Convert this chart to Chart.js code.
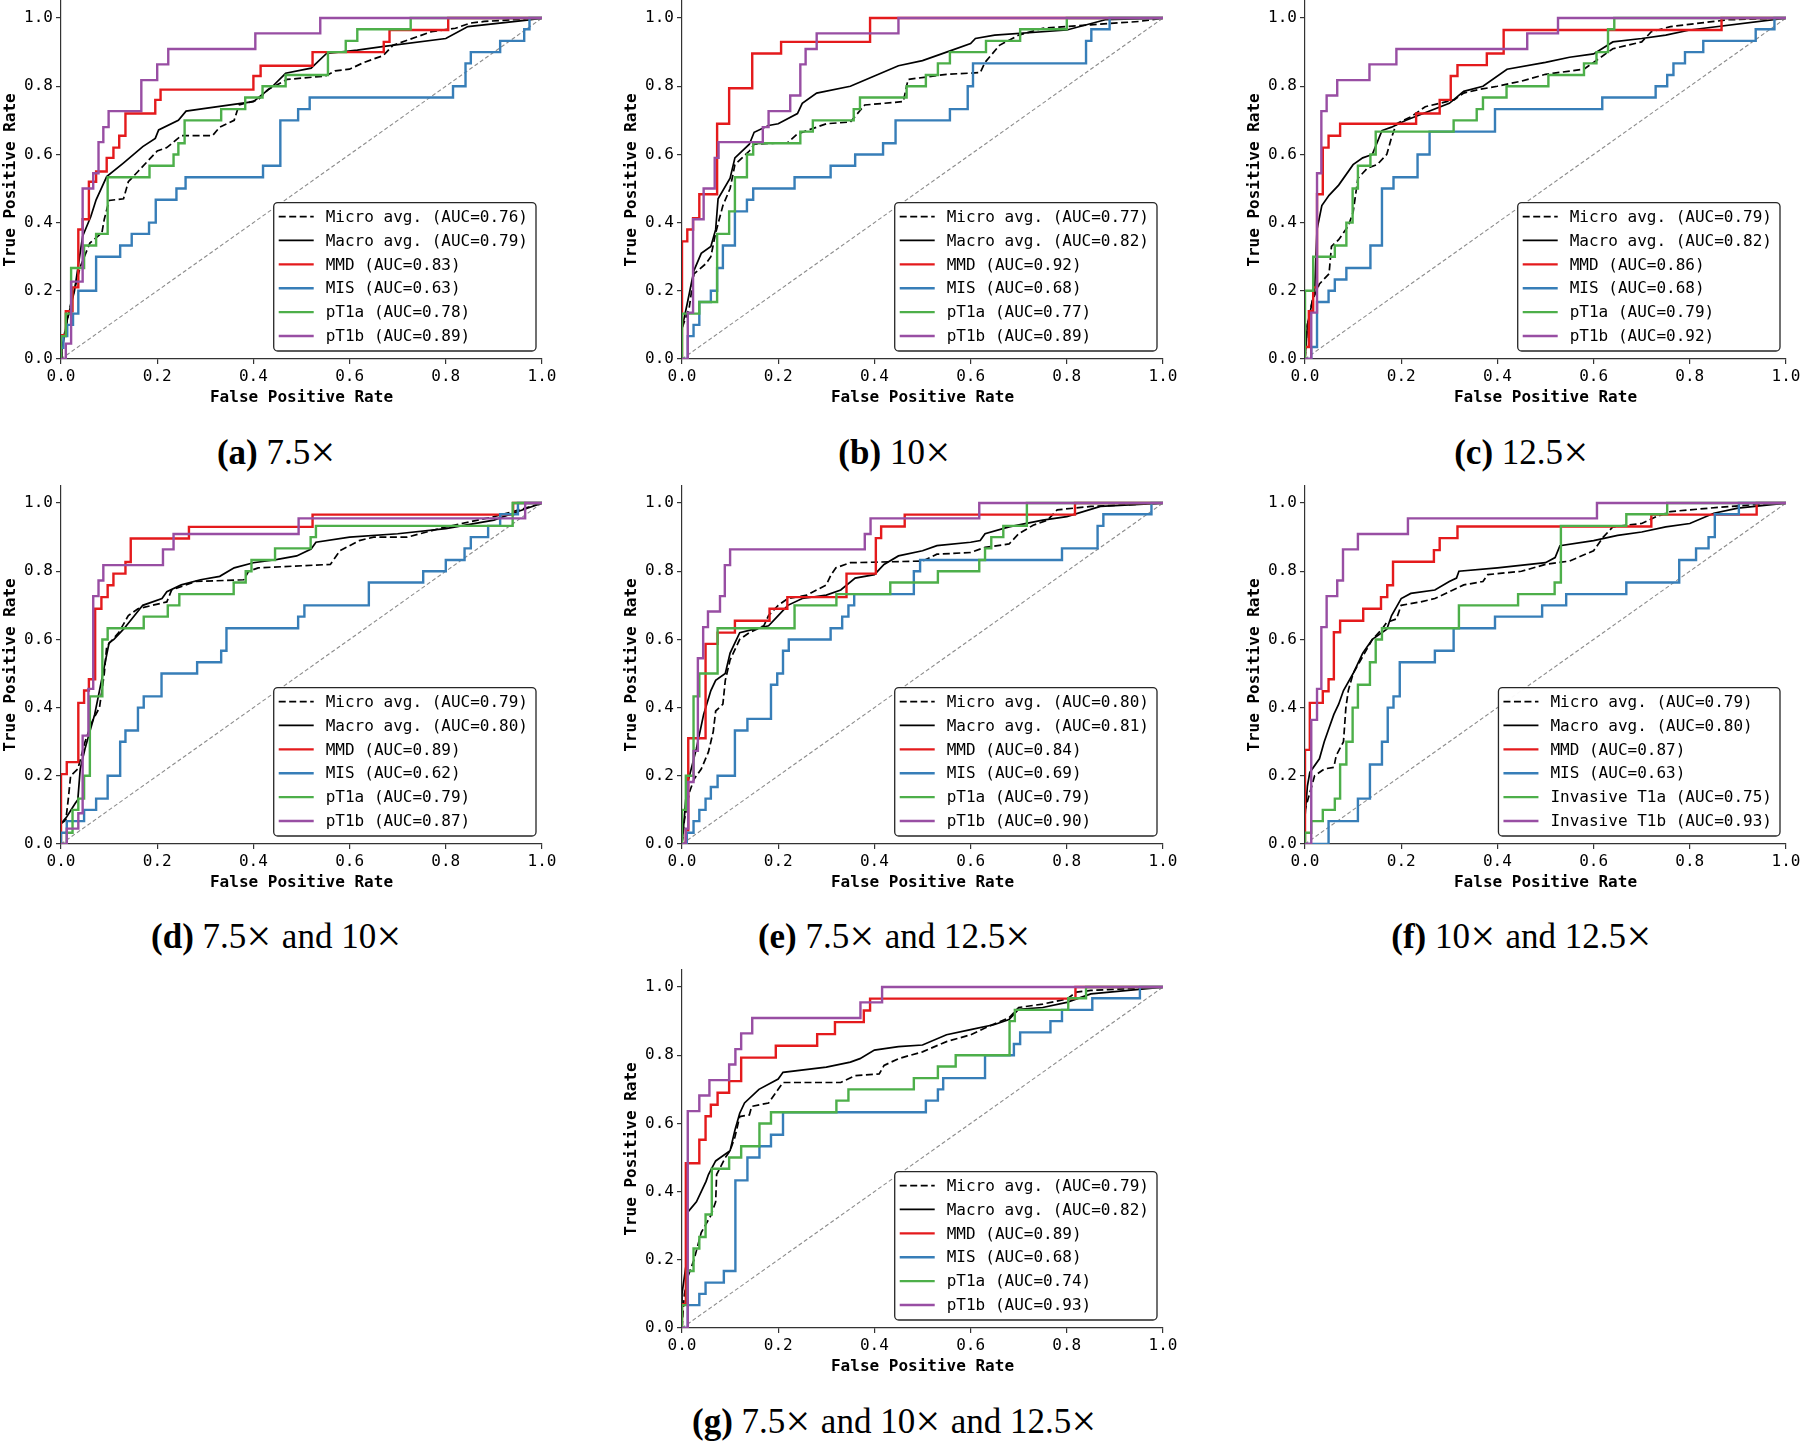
<!DOCTYPE html>
<html>
<head>
<meta charset="utf-8">
<script src="https://cdn.jsdelivr.net/npm/chart.js@4.4.0/dist/chart.umd.min.js"></script>
<style>
    body { margin: 0; background: #fff; width: 1800px; height: 1441px; position: relative; overflow: hidden; }
    canvas { position: absolute; }
    .cap { position: absolute; width: 560px; text-align: center; font-family: "Liberation Serif", "Times New Roman", serif;
           font-size: 35px; line-height: 40px; color: #000; white-space: nowrap; }
    .cap b { font-weight: bold; }
    .cap .times { display: inline-block; transform: scale(1.25); margin: 0 4px 0 3px; }
</style>
</head>
<body>
<script>
// ROC points [fpr, tpr]; class curves are staircases (up, then right)
const a_micro = [[0,0],[0.005,0.06],[0.02,0.16],[0.04,0.27],[0.06,0.34],[0.085,0.37],[0.09,0.41],[0.1,0.465],[0.13,0.47],[0.14,0.52],[0.16,0.55],[0.18,0.58],[0.2,0.61],[0.22,0.62],[0.25,0.655],[0.315,0.655],[0.33,0.68],[0.36,0.70],[0.37,0.745],[0.41,0.76],[0.43,0.79],[0.47,0.82],[0.55,0.83],[0.57,0.845],[0.6,0.85],[0.63,0.87],[0.65,0.88],[0.67,0.89],[0.69,0.92],[0.75,0.95],[0.77,0.96],[0.82,0.97],[0.85,0.985],[0.88,0.99],[1,1]];
const a_macro = [[0,0],[0.002,0.027],[0.013,0.115],[0.028,0.2],[0.045,0.36],[0.062,0.418],[0.073,0.467],[0.095,0.535],[0.129,0.574],[0.17,0.623],[0.196,0.647],[0.203,0.672],[0.244,0.70],[0.26,0.727],[0.3,0.735],[0.4,0.755],[0.44,0.80],[0.467,0.838],[0.52,0.853],[0.552,0.896],[0.616,0.906],[0.668,0.916],[0.8,0.94],[0.846,0.975],[0.969,0.994],[1,1]];
const a_mmd = [[0,0],[0.01,0.07],[0.024,0.14],[0.036,0.21],[0.045,0.38],[0.058,0.41],[0.073,0.52],[0.095,0.55],[0.109,0.59],[0.121,0.62],[0.134,0.655],[0.196,0.72],[0.207,0.76],[0.40,0.79],[0.415,0.83],[0.523,0.86],[0.671,0.90],[0.683,0.93],[0.805,0.965],[1,1]];
const a_mis = [[0,0],[0.005,0.033],[0.013,0.067],[0.025,0.10],[0.036,0.133],[0.073,0.20],[0.123,0.30],[0.147,0.333],[0.183,0.367],[0.197,0.40],[0.24,0.467],[0.259,0.50],[0.42,0.533],[0.456,0.567],[0.493,0.70],[0.517,0.733],[0.815,0.767],[0.841,0.80],[0.852,0.867],[0.913,0.90],[0.963,0.933],[0.974,0.967],[1,1]];
const a_t1a = [[0,0],[0.01,0.067],[0.021,0.133],[0.048,0.267],[0.073,0.333],[0.097,0.367],[0.184,0.533],[0.234,0.567],[0.244,0.60],[0.257,0.633],[0.333,0.70],[0.383,0.733],[0.419,0.767],[0.467,0.80],[0.555,0.833],[0.592,0.90],[0.616,0.933],[0.727,0.967],[1,1]];
const a_t1b = [[0,0],[0.01,0],[0.021,0.045],[0.045,0.227],[0.067,0.50],[0.078,0.545],[0.088,0.636],[0.099,0.68],[0.167,0.727],[0.20,0.818],[0.223,0.864],[0.404,0.909],[0.539,0.955],[1,1]];

const b_micro = [[0,0],[0,0.09],[0.015,0.15],[0.025,0.25],[0.05,0.28],[0.06,0.3],[0.07,0.37],[0.085,0.45],[0.1,0.5],[0.11,0.57],[0.14,0.61],[0.15,0.63],[0.22,0.635],[0.24,0.66],[0.3,0.69],[0.35,0.695],[0.38,0.745],[0.46,0.755],[0.47,0.82],[0.55,0.835],[0.62,0.84],[0.63,0.87],[0.66,0.92],[0.7,0.95],[0.75,0.97],[0.85,0.98],[0.95,0.99],[1,1]];
const b_macro = [[0,0],[0,0.09],[0.012,0.17],[0.025,0.26],[0.04,0.31],[0.06,0.33],[0.07,0.38],[0.075,0.47],[0.1,0.53],[0.11,0.59],[0.14,0.63],[0.15,0.665],[0.18,0.685],[0.2,0.69],[0.24,0.72],[0.25,0.75],[0.28,0.78],[0.35,0.80],[0.4,0.83],[0.45,0.86],[0.5,0.875],[0.55,0.90],[0.6,0.925],[0.61,0.94],[0.65,0.95],[0.8,0.965],[0.88,0.995],[1,1]];
const b_mmd = [[0,0],[0.011,0.345],[0.023,0.38],[0.036,0.413],[0.073,0.483],[0.098,0.69],[0.146,0.794],[0.206,0.896],[0.391,0.93],[1,1]];
const b_mis = [[0,0],[0.012,0],[0.024,0.067],[0.036,0.10],[0.06,0.167],[0.073,0.20],[0.085,0.267],[0.11,0.333],[0.135,0.433],[0.148,0.467],[0.234,0.50],[0.309,0.533],[0.36,0.567],[0.418,0.60],[0.444,0.633],[0.557,0.70],[0.594,0.733],[0.605,0.80],[0.84,0.867],[0.851,0.933],[0.889,0.967],[1,1]];
const b_t1a = [[0,0],[0.036,0.133],[0.073,0.167],[0.098,0.367],[0.11,0.433],[0.135,0.533],[0.148,0.60],[0.246,0.633],[0.272,0.667],[0.357,0.70],[0.37,0.733],[0.467,0.767],[0.507,0.80],[0.532,0.833],[0.557,0.867],[0.632,0.90],[0.703,0.933],[0.80,0.967],[1,1]];
const b_t1b = [[0,0],[0.012,0],[0.023,0.136],[0.045,0.41],[0.068,0.50],[0.076,0.59],[0.168,0.636],[0.18,0.68],[0.225,0.727],[0.246,0.773],[0.257,0.864],[0.28,0.909],[0.45,0.955],[1,1]];

const c_micro = [[0,0],[0.005,0.1],[0.015,0.17],[0.03,0.22],[0.05,0.25],[0.055,0.33],[0.07,0.35],[0.08,0.37],[0.09,0.39],[0.1,0.43],[0.11,0.53],[0.13,0.56],[0.15,0.57],[0.17,0.6],[0.18,0.65],[0.19,0.69],[0.22,0.71],[0.25,0.74],[0.31,0.76],[0.33,0.78],[0.36,0.79],[0.4,0.80],[0.45,0.815],[0.5,0.835],[0.58,0.85],[0.6,0.87],[0.64,0.91],[0.7,0.93],[0.72,0.96],[0.76,0.975],[0.82,0.985],[0.88,0.995],[1,1]];
const c_macro = [[0,0],[0.005,0.1],[0.02,0.2],[0.025,0.38],[0.035,0.45],[0.05,0.48],[0.07,0.51],[0.1,0.57],[0.12,0.59],[0.14,0.6],[0.16,0.67],[0.18,0.68],[0.21,0.70],[0.3,0.75],[0.33,0.785],[0.37,0.8],[0.42,0.85],[0.5,0.87],[0.55,0.885],[0.6,0.895],[0.64,0.93],[0.7,0.94],[0.75,0.95],[0.8,0.965],[1,1]];
const c_mmd = [[0,0],[0.008,0.035],[0.017,0.14],[0.025,0.21],[0.037,0.483],[0.049,0.62],[0.073,0.655],[0.231,0.69],[0.28,0.72],[0.303,0.76],[0.317,0.83],[0.378,0.862],[0.413,0.896],[0.866,0.965],[1,1]];
const c_mis = [[0,0],[0.013,0],[0.025,0.035],[0.049,0.167],[0.062,0.20],[0.086,0.233],[0.136,0.267],[0.16,0.333],[0.184,0.50],[0.234,0.533],[0.259,0.60],[0.395,0.667],[0.618,0.733],[0.729,0.767],[0.753,0.80],[0.766,0.833],[0.79,0.867],[0.828,0.90],[0.937,0.933],[0.976,0.967],[1,1]];
const c_t1a = [[0,0],[0.017,0.20],[0.062,0.30],[0.086,0.333],[0.099,0.40],[0.11,0.50],[0.136,0.567],[0.147,0.60],[0.309,0.667],[0.357,0.70],[0.37,0.733],[0.419,0.767],[0.506,0.80],[0.58,0.833],[0.606,0.867],[0.63,0.90],[0.643,0.967],[1,1]];
const c_t1b = [[0,0],[0.013,0],[0.025,0.136],[0.034,0.545],[0.045,0.727],[0.067,0.773],[0.134,0.818],[0.19,0.864],[0.462,0.909],[0.526,0.955],[1,1]];

const d_micro = [[0,0],[0,0.06],[0.01,0.07],[0.015,0.13],[0.02,0.2],[0.035,0.22],[0.05,0.3],[0.065,0.36],[0.08,0.4],[0.09,0.5],[0.095,0.58],[0.12,0.62],[0.14,0.67],[0.16,0.69],[0.22,0.71],[0.23,0.745],[0.28,0.77],[0.38,0.775],[0.39,0.8],[0.41,0.81],[0.56,0.82],[0.57,0.84],[0.58,0.86],[0.62,0.89],[0.65,0.9],[0.72,0.9],[0.8,0.93],[0.9,0.96],[0.94,0.975],[1,1]];
const d_macro = [[0,0],[0,0.06],[0.012,0.08],[0.03,0.12],[0.035,0.13],[0.04,0.22],[0.05,0.28],[0.06,0.33],[0.07,0.38],[0.08,0.45],[0.09,0.52],[0.1,0.59],[0.11,0.6],[0.13,0.63],[0.15,0.665],[0.17,0.7],[0.21,0.72],[0.22,0.74],[0.25,0.76],[0.29,0.775],[0.33,0.785],[0.36,0.81],[0.4,0.825],[0.45,0.835],[0.49,0.845],[0.52,0.865],[0.53,0.885],[0.6,0.9],[0.7,0.91],[0.8,0.925],[0.9,0.95],[0.95,0.975],[1,1]];
const d_mmd = [[0,0],[0.012,0.205],[0.036,0.24],[0.048,0.414],[0.058,0.45],[0.071,0.483],[0.084,0.69],[0.097,0.724],[0.109,0.759],[0.134,0.793],[0.145,0.827],[0.266,0.896],[0.523,0.93],[0.94,0.966],[1,1]];
const d_mis = [[0,0],[0.012,0.033],[0.048,0.067],[0.073,0.10],[0.097,0.133],[0.123,0.20],[0.134,0.30],[0.16,0.333],[0.172,0.40],[0.209,0.433],[0.283,0.50],[0.333,0.533],[0.344,0.567],[0.493,0.633],[0.506,0.667],[0.64,0.70],[0.753,0.767],[0.80,0.80],[0.839,0.833],[0.852,0.867],[0.888,0.90],[0.913,0.933],[0.95,0.967],[1,1]];
const d_t1a = [[0,0],[0.012,0],[0.024,0.033],[0.036,0.10],[0.048,0.133],[0.06,0.20],[0.086,0.433],[0.097,0.60],[0.172,0.633],[0.222,0.667],[0.246,0.70],[0.359,0.733],[0.384,0.767],[0.396,0.80],[0.445,0.833],[0.519,0.867],[0.53,0.90],[0.939,0.933],[1,1]];
const d_t1b = [[0,0],[0.012,0],[0.036,0.045],[0.045,0.09],[0.057,0.318],[0.067,0.455],[0.078,0.727],[0.088,0.773],[0.212,0.818],[0.234,0.864],[0.494,0.909],[0.965,0.955],[1,1]];

const e_micro = [[0,0],[0.005,0.07],[0.015,0.15],[0.025,0.19],[0.04,0.22],[0.055,0.27],[0.06,0.3],[0.065,0.33],[0.07,0.39],[0.085,0.41],[0.09,0.48],[0.1,0.54],[0.12,0.6],[0.14,0.62],[0.17,0.64],[0.18,0.67],[0.2,0.7],[0.22,0.72],[0.26,0.73],[0.3,0.76],[0.31,0.79],[0.32,0.81],[0.35,0.825],[0.5,0.83],[0.53,0.85],[0.6,0.855],[0.63,0.87],[0.68,0.88],[0.7,0.91],[0.73,0.935],[0.76,0.95],[0.78,0.98],[0.85,0.99],[1,1]];
const e_macro = [[0,0],[0.005,0.08],[0.01,0.17],[0.03,0.28],[0.045,0.38],[0.06,0.45],[0.07,0.48],[0.09,0.5],[0.1,0.56],[0.11,0.59],[0.12,0.62],[0.15,0.63],[0.18,0.64],[0.2,0.67],[0.22,0.7],[0.25,0.72],[0.3,0.73],[0.33,0.745],[0.36,0.78],[0.4,0.79],[0.42,0.82],[0.45,0.845],[0.5,0.86],[0.53,0.875],[0.6,0.885],[0.62,0.89],[0.63,0.91],[0.68,0.93],[0.75,0.95],[0.8,0.96],[0.87,0.99],[1,1]];
const e_mmd = [[0,0],[0.008,0],[0.013,0.04],[0.049,0.31],[0.074,0.587],[0.11,0.62],[0.182,0.655],[0.219,0.69],[0.342,0.724],[0.403,0.793],[0.414,0.897],[0.463,0.931],[0.817,0.966],[1,1]];
const e_mis = [[0,0],[0.01,0],[0.024,0.033],[0.036,0.067],[0.049,0.10],[0.06,0.133],[0.074,0.167],[0.11,0.20],[0.136,0.333],[0.185,0.367],[0.198,0.467],[0.21,0.50],[0.222,0.567],[0.309,0.60],[0.333,0.633],[0.346,0.667],[0.358,0.70],[0.482,0.733],[0.495,0.80],[0.79,0.833],[0.864,0.867],[0.876,0.933],[0.976,0.967],[1,1]];
const e_t1a = [[0,0],[0.008,0.10],[0.024,0.20],[0.036,0.433],[0.074,0.50],[0.234,0.633],[0.321,0.70],[0.433,0.733],[0.532,0.767],[0.618,0.80],[0.63,0.833],[0.643,0.867],[0.668,0.90],[0.717,0.933],[1,1]];
const e_t1b = [[0,0],[0.008,0],[0.013,0.045],[0.024,0.182],[0.033,0.273],[0.044,0.545],[0.054,0.636],[0.079,0.682],[0.089,0.727],[0.10,0.818],[0.38,0.864],[0.392,0.909],[0.618,0.955],[1,1]];

const f_micro = [[0,0],[0,0.1],[0.01,0.15],[0.02,0.2],[0.04,0.22],[0.06,0.225],[0.065,0.26],[0.08,0.3],[0.085,0.4],[0.09,0.45],[0.1,0.5],[0.12,0.55],[0.14,0.6],[0.16,0.63],[0.17,0.65],[0.19,0.66],[0.2,0.7],[0.24,0.71],[0.27,0.72],[0.3,0.74],[0.33,0.76],[0.37,0.77],[0.38,0.79],[0.45,0.8],[0.5,0.82],[0.55,0.83],[0.6,0.86],[0.62,0.9],[0.64,0.93],[0.7,0.94],[0.73,0.96],[0.76,0.975],[0.84,0.985],[0.93,0.995],[1,1]];
const f_macro = [[0,0],[0,0.08],[0.005,0.17],[0.01,0.21],[0.03,0.25],[0.04,0.3],[0.05,0.34],[0.06,0.38],[0.07,0.41],[0.08,0.45],[0.1,0.5],[0.12,0.56],[0.14,0.6],[0.17,0.63],[0.18,0.67],[0.2,0.72],[0.22,0.735],[0.27,0.745],[0.3,0.77],[0.315,0.78],[0.32,0.8],[0.4,0.81],[0.5,0.825],[0.52,0.84],[0.53,0.875],[0.6,0.89],[0.65,0.905],[0.7,0.915],[0.75,0.93],[0.8,0.94],[0.85,0.97],[0.9,0.985],[1,1]];
const f_mmd = [[0,0],[0.01,0.276],[0.037,0.414],[0.049,0.448],[0.06,0.483],[0.073,0.621],[0.121,0.655],[0.158,0.69],[0.171,0.724],[0.183,0.759],[0.268,0.828],[0.28,0.862],[0.317,0.897],[0.72,0.931],[0.939,0.966],[1,1]];
const f_mis = [[0,0],[0.049,0],[0.11,0.067],[0.135,0.133],[0.16,0.233],[0.172,0.30],[0.184,0.40],[0.197,0.433],[0.27,0.533],[0.309,0.567],[0.395,0.633],[0.493,0.667],[0.543,0.70],[0.668,0.733],[0.778,0.767],[0.813,0.833],[0.839,0.867],[0.852,0.90],[0.902,0.967],[1,1]];
const f_t1a = [[0,0],[0.013,0.033],[0.037,0.067],[0.062,0.10],[0.073,0.133],[0.086,0.233],[0.099,0.30],[0.11,0.40],[0.135,0.467],[0.147,0.533],[0.16,0.60],[0.32,0.633],[0.443,0.70],[0.519,0.733],[0.532,0.767],[0.668,0.933],[0.753,0.967],[1,1]];
const f_t1b = [[0,0],[0.013,0],[0.025,0.364],[0.034,0.455],[0.045,0.636],[0.067,0.727],[0.079,0.773],[0.11,0.864],[0.214,0.909],[0.607,0.955],[1,1]];

const g_micro = [[0,0],[0.005,0.1],[0.012,0.15],[0.025,0.2],[0.04,0.28],[0.06,0.33],[0.07,0.37],[0.072,0.45],[0.09,0.5],[0.1,0.52],[0.11,0.56],[0.12,0.62],[0.14,0.625],[0.145,0.65],[0.18,0.66],[0.2,0.7],[0.21,0.72],[0.33,0.72],[0.36,0.74],[0.41,0.745],[0.42,0.77],[0.45,0.79],[0.5,0.81],[0.55,0.84],[0.6,0.86],[0.63,0.88],[0.68,0.91],[0.7,0.94],[0.75,0.95],[0.8,0.965],[0.82,0.985],[0.85,0.99],[1,1]];
const g_macro = [[0,0],[0,0.1],[0.01,0.2],[0.012,0.34],[0.03,0.37],[0.04,0.4],[0.05,0.43],[0.055,0.45],[0.07,0.49],[0.08,0.5],[0.1,0.52],[0.11,0.58],[0.12,0.63],[0.13,0.66],[0.16,0.7],[0.2,0.73],[0.21,0.75],[0.3,0.765],[0.35,0.78],[0.37,0.79],[0.4,0.815],[0.45,0.825],[0.5,0.83],[0.55,0.86],[0.6,0.875],[0.65,0.89],[0.68,0.905],[0.7,0.935],[0.75,0.94],[0.8,0.955],[0.85,0.98],[1,1]];
const g_mmd = [[0,0],[0.008,0.07],[0.036,0.483],[0.049,0.552],[0.06,0.621],[0.074,0.655],[0.098,0.69],[0.123,0.724],[0.195,0.793],[0.281,0.828],[0.318,0.862],[0.378,0.897],[0.391,0.931],[0.818,0.966],[1,1]];
const g_mis = [[0,0],[0.012,0],[0.036,0.067],[0.049,0.10],[0.087,0.133],[0.111,0.167],[0.136,0.433],[0.161,0.50],[0.185,0.533],[0.21,0.567],[0.507,0.633],[0.532,0.667],[0.543,0.70],[0.63,0.733],[0.69,0.80],[0.703,0.833],[0.766,0.867],[0.79,0.90],[0.853,0.933],[0.952,0.967],[1,1]];
const g_t1a = [[0,0],[0.012,0.067],[0.024,0.167],[0.036,0.233],[0.049,0.267],[0.062,0.333],[0.098,0.467],[0.123,0.50],[0.161,0.533],[0.185,0.60],[0.321,0.633],[0.346,0.667],[0.482,0.70],[0.532,0.733],[0.569,0.767],[0.681,0.80],[0.692,0.90],[0.803,0.933],[0.84,0.967],[1,1]];
const g_t1b = [[0,0],[0.012,0],[0.036,0.636],[0.057,0.682],[0.098,0.727],[0.111,0.773],[0.123,0.818],[0.146,0.864],[0.371,0.909],[0.416,0.955],[1,1]];

// AUC values in legend order: micro, macro, MMD, MIS, T1a, T1b
const aucA = [0.76, 0.79, 0.83, 0.63, 0.78, 0.89];
const aucB = [0.77, 0.82, 0.92, 0.68, 0.77, 0.89];
const aucC = [0.79, 0.82, 0.86, 0.68, 0.79, 0.92];
const aucD = [0.79, 0.80, 0.89, 0.62, 0.79, 0.87];
const aucE = [0.80, 0.81, 0.84, 0.69, 0.79, 0.90];
const aucF = [0.79, 0.80, 0.87, 0.63, 0.75, 0.93];
const aucG = [0.79, 0.82, 0.89, 0.68, 0.74, 0.93];

const seriesNames = ['Micro avg.', 'Macro avg.', 'MMD', 'MIS', 'pT1a', 'pT1b'];
const seriesNamesF = ['Micro avg.', 'Macro avg.', 'MMD', 'MIS', 'Invasive T1a', 'Invasive T1b'];
const diagonal = [[0, 0], [1, 1]];
const axisTicks = [0, 0.2, 0.4, 0.6, 0.8, 1.0];

// Styling
const lineColors = ['#000000', '#000000', '#e41a1c', '#377eb8', '#4daf4a', '#984ea3'];
const monoFont = '"DejaVu Sans Mono", monospace';

const panels = [
    { tag: '(a)', caption: '7.5×', col: 0, row: 0, names: seriesNames, auc: aucA, series: [a_micro, a_macro, a_mmd, a_mis, a_t1a, a_t1b] },
    { tag: '(b)', caption: '10×', col: 1, row: 0, names: seriesNames, auc: aucB, series: [b_micro, b_macro, b_mmd, b_mis, b_t1a, b_t1b] },
    { tag: '(c)', caption: '12.5×', col: 2, row: 0, names: seriesNames, auc: aucC, series: [c_micro, c_macro, c_mmd, c_mis, c_t1a, c_t1b] },
    { tag: '(d)', caption: '7.5× and 10×', col: 0, row: 1, names: seriesNames, auc: aucD, series: [d_micro, d_macro, d_mmd, d_mis, d_t1a, d_t1b] },
    { tag: '(e)', caption: '7.5× and 12.5×', col: 1, row: 1, names: seriesNames, auc: aucE, series: [e_micro, e_macro, e_mmd, e_mis, e_t1a, e_t1b] },
    { tag: '(f)', caption: '10× and 12.5×', col: 2, row: 1, names: seriesNamesF, auc: aucF, series: [f_micro, f_macro, f_mmd, f_mis, f_t1a, f_t1b] },
    { tag: '(g)', caption: '7.5× and 10× and 12.5×', col: 1, row: 2, names: seriesNames, auc: aucG, series: [g_micro, g_macro, g_mmd, g_mis, g_t1a, g_t1b] }
];

// Page geometry (px)
const plotLeft = [61, 682, 1305];
const canvasTop = [0, 485, 969];
const captionX = [277, 895, 1522];
const captionY = [453, 937, 1422];
const yAxisW = 60, xAxisH = 48, plotW = 481, plotH = 358, padRight = 22;

Chart.defaults.font.family = monoFont;
Chart.defaults.font.size = 16;
Chart.defaults.color = '#000';

// Legend box drawn inside the plot, lower right (matplotlib style)
const insideLegend = {
    id: 'insideLegend',
    afterDraw(chart) {
        const { ctx, chartArea } = chart;
        const items = chart.data.datasets.filter(d => d.label);
        ctx.save();
        ctx.font = '16px ' + monoFont;
        const textW = Math.max(...items.map(d => ctx.measureText(d.label).width));
        const rowH = 23.9;
        const w = 5 + 35 + 12 + textW + 8;
        const h = rowH * items.length + 5;
        const x = chartArea.right - 6 - w;
        const y = chartArea.bottom - 8 - h;
        ctx.beginPath();
        ctx.roundRect(x, y, w, h, 4);
        ctx.fillStyle = 'rgba(255,255,255,0.95)';
        ctx.fill();
        ctx.lineWidth = 1.3;
        ctx.strokeStyle = '#262626';
        ctx.stroke();
        items.forEach((d, i) => {
            const cy = y + 2 + rowH * (i + 0.5);
            ctx.beginPath();
            ctx.setLineDash(d.borderDash || []);
            ctx.lineWidth = d.borderWidth;
            ctx.strokeStyle = d.borderColor;
            ctx.moveTo(x + 5, cy);
            ctx.lineTo(x + 40, cy);
            ctx.stroke();
            ctx.setLineDash([]);
            ctx.fillStyle = '#000';
            ctx.textBaseline = 'middle';
            ctx.fillText(d.label, x + 52, cy + 1);
        });
        ctx.restore();
    }
};

function buildDatasets(p) {
    const sets = p.series.map((pts, i) => ({
        label: `${p.names[i]} (AUC=${p.auc[i].toFixed(2)})`,
        data: pts.map(pt => ({ x: pt[0], y: pt[1] })),
        borderColor: lineColors[i],
        borderWidth: i < 2 ? 1.7 : 2.4,
        borderDash: i === 0 ? [7, 3.5] : [],
        stepped: i >= 2 ? 'after' : false,
        order: 6 - i
    }));
    sets.push({
        label: '',
        data: diagonal.map(pt => ({ x: pt[0], y: pt[1] })),
        borderColor: '#8c8c8c',
        borderWidth: 1.1,
        borderDash: [4, 2.5],
        order: 7
    });
    return sets;
}

function axis(title, isY) {
    return {
        type: 'linear',
        min: 0,
        max: isY ? 1.05 : 1.0,
        afterBuildTicks: s => { s.ticks = axisTicks.map(v => ({ value: v })); },
        afterFit: s => {
            // fixed axis boxes so every plot area lands at the same place
            if (isY) { s.width = yAxisW; s.paddingTop = 0; s.paddingBottom = 0; }
            else { s.height = xAxisH; s.paddingLeft = 0; s.paddingRight = 0; }
        },
        border: { display: true, color: '#333', width: 1.2 },
        grid: { display: true, drawOnChartArea: false, drawTicks: true, tickLength: 5, color: '#333', lineWidth: 1.2 },
        ticks: { padding: 3, maxRotation: 0, autoSkip: false, color: '#000', callback: v => Number(v).toFixed(1) },
        title: { display: true, text: title, color: '#000', padding: 0, font: { weight: 'bold', size: 16, lineHeight: 1.2 } }
    };
}

panels.forEach(p => {
    const cv = document.createElement('canvas');
    const w = yAxisW + plotW + padRight;
    const h = 1 + plotH + xAxisH;
    cv.width = w;
    cv.height = h;
    cv.style.width = w + 'px';
    cv.style.height = h + 'px';
    cv.style.left = (plotLeft[p.col] - yAxisW) + 'px';
    cv.style.top = canvasTop[p.row] + 'px';
    document.body.appendChild(cv);

    new Chart(cv.getContext('2d'), {
        type: 'line',
        data: { datasets: buildDatasets(p) },
        options: {
            responsive: false,
            animation: false,
            events: [],
            layout: { padding: { top: 1, right: padRight, left: 0, bottom: 0 } },
            elements: { point: { radius: 0 }, line: { tension: 0, fill: false } },
            plugins: { legend: { display: false }, tooltip: { enabled: false } },
            scales: {
                x: axis('False Positive Rate', false),
                y: axis('True Positive Rate', true)
            }
        },
        plugins: [insideLegend]
    });

    const cap = document.createElement('div');
    cap.className = 'cap';
    cap.innerHTML = `<b>${p.tag}</b> ` + p.caption.replace(/×/g, '<span class="times">×</span>');
    cap.style.left = (captionX[p.col] - 280) + 'px';
    cap.style.top = (captionY[p.row] - 20) + 'px';
    document.body.appendChild(cap);
});
</script>
</body>
</html>
